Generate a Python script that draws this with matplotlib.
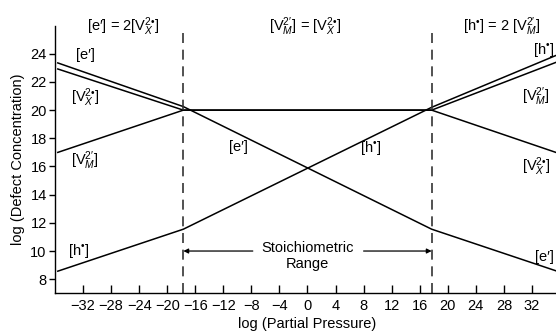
import numpy as np
import matplotlib
matplotlib.use('Agg')
import matplotlib.pyplot as plt

plt.rcParams['font.family'] = ['Liberation Sans', 'DejaVu Sans']
plt.rcParams['mathtext.fontset'] = 'custom'
plt.rcParams['mathtext.rm'] = 'Liberation Sans'
plt.rcParams['mathtext.it'] = 'Liberation Sans:italic'
plt.rcParams['mathtext.bf'] = 'Liberation Sans:bold'

# Brouwer diagram breakpoints
bp_x = [-35.6, -17.7, 17.7, 36.0]
e_y = [23.35, 20.25, 11.55, 8.5]       # [e']
vx_y = [22.92, 20.0, 20.0, 16.9]       # [V_X 2.]
vm_y = [17.0, 20.0, 20.0, 23.5]        # [V_M 2']
h_y = [8.57, 11.55, 20.2, 24.0]        # [h.]

# stoichiometric range limits
stoich = [-17.7, 17.7]

xticks = list(range(-32, 33, 4))
yticks = list(range(8, 25, 2))

VX = '$[\\mathrm{V}_{X}^{\\mathrm{2\u2022}}]$'
VM = '$[\\mathrm{V}_{M}^{\\mathrm{2\u2032}}]$'
E = '[e\u2032]'
H = '[h$^{\\mathrm{\u2022}}$]'

fig = plt.figure(figsize=(5.56, 3.31), dpi=100)
ax = fig.add_axes([0.0989, 0.1139, 0.9083, 0.8088])

for ys in (e_y, vx_y, vm_y, h_y):
    ax.plot(bp_x, ys, color='black', lw=1.1, solid_joinstyle='miter')

for xs in stoich:
    ax.plot([xs, xs], [7, 25.9], color='#333333', lw=1.2,
            dashes=(6, 4), clip_on=False)

# stoichiometric range arrows
ax.annotate('', xy=(stoich[0], 10), xytext=(-7.8, 10),
            arrowprops=dict(arrowstyle='-|>', color='black', lw=0.9,
                            mutation_scale=7, shrinkA=0, shrinkB=0))
ax.annotate('', xy=(stoich[1], 10), xytext=(8.0, 10),
            arrowprops=dict(arrowstyle='-|>', color='black', lw=0.9,
                            mutation_scale=7, shrinkA=0, shrinkB=0))
ax.text(0, 10.25, 'Stoichiometric', ha='center', va='center', fontsize=10.5)
ax.text(0, 9.05, 'Range', ha='center', va='center', fontsize=10.5)

# region headers
fs = 10.5
ax.text(-26.3, 25.9, E + ' = 2' + VX, ha='center', va='center', fontsize=fs, clip_on=False)
ax.text(-0.4, 25.9, VM + ' = ' + VX, ha='center', va='center', fontsize=fs, clip_on=False)
ax.text(27.6, 25.9, H + ' = 2 ' + VM, ha='center', va='center', fontsize=fs, clip_on=False)

# line labels
ax.text(-31.6, 23.9, E, ha='center', va='center', fontsize=fs)
ax.text(-31.7, 20.9, VX, ha='center', va='center', fontsize=fs)
ax.text(-31.7, 16.4, VM, ha='center', va='center', fontsize=fs)
ax.text(-32.6, 10.0, H, ha='center', va='center', fontsize=fs)
ax.text(-9.9, 17.4, E, ha='center', va='center', fontsize=fs)
ax.text(9.0, 17.3, H, ha='center', va='center', fontsize=fs)
ax.text(33.6, 24.3, H, ha='center', va='center', fontsize=fs, clip_on=False)
ax.text(32.6, 20.95, VM, ha='center', va='center', fontsize=fs, clip_on=False)
ax.text(32.6, 15.95, VX, ha='center', va='center', fontsize=fs, clip_on=False)
ax.text(33.8, 9.6, E, ha='center', va='center', fontsize=fs, clip_on=False)

ax.set_xlim(-36, 36)
ax.set_ylim(7, 26)
ax.set_xticks(xticks)
ax.set_yticks(yticks)
ax.tick_params(axis='x', direction='in', length=6, width=1, pad=4, labelsize=10.5)
ax.tick_params(axis='y', direction='out', length=4, width=1, pad=2, labelsize=10.5)
ax.spines['top'].set_visible(False)
ax.spines['right'].set_visible(False)
ax.spines['left'].set_linewidth(1)
ax.spines['bottom'].set_linewidth(1)

ax.set_xlabel('log (Partial Pressure)', fontsize=10.5, labelpad=3)
ax.set_ylabel('log (Defect Concentration)', fontsize=10.5, labelpad=4)

fig.savefig('out.png', dpi=100)
